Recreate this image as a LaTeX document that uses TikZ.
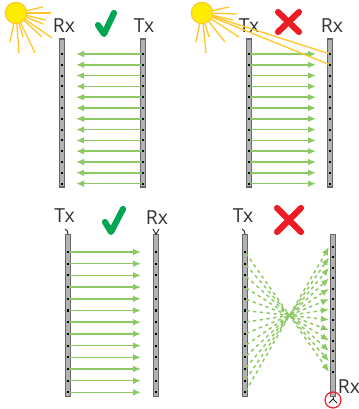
\documentclass[tikz,border=0pt]{standalone}
\usepackage{fontspec}
\setmainfont{Open Sans}
\usetikzlibrary{positioning, calc, arrows.meta}

\definecolor{siggreen}{HTML}{8CC963}
\definecolor{raycol}{HTML}{FFC72C}
\definecolor{goodcol}{HTML}{00A651}
\definecolor{badcol}{HTML}{ED1C24}
\tikzset{
  bar/.style={draw=black!60, fill=black!30, line width=0.8pt, minimum width=3.8pt, inner sep=0pt},
  barmark/.style={fill=black, minimum size=1.6pt, inner sep=0pt},
  sig/.style={draw=siggreen, line width=1.1pt, -{Latex[length=6pt,width=5pt]}},
  sigdash/.style={sig, dashed, dash pattern=on 2.5pt off 2.6pt},
  sun/.style={circle, draw=raycol, line width=0.9pt, fill=yellow!95!orange, minimum size=16pt, inner sep=0pt},
  ray/.style={draw=raycol, line width=1pt},
  lbl/.style={text=black!80, inner sep=0pt, font=\fontsize{14.5}{17}\selectfont},
  verdict/.style={line width=4.6pt, line cap=round, line join=round},
  ant/.style={draw=black!85, line width=0.7pt}
}

\begin{document}
\begin{tikzpicture}[x=0.75pt, y=-0.75pt]
  \useasboundingbox (0,0) rectangle (359,409);

  % top left
  \node[bar, minimum height=111pt] (rxa) at (62,113) {};
  \node[bar, minimum height=111pt] (txa) at (143,113) {};
  \node[lbl] (rxalbl) at (64,26) {Rx};
  \node[lbl] (txalbl) at (144,26) {Tx};
  \foreach \i in {0,...,12} {
    \node[barmark] (rxa\i) at (62,{54+10.8*\i}) {};
    \node[barmark] (txa\i) at (143,{54+10.8*\i}) {};
    \coordinate (enda\i) at (76,{54+10.8*\i});
    \draw[sig] (txa\i) -- (enda\i);
  }
  \draw[verdict, goodcol] (98,25) -- (104,34) -- (114,13);

  % top right
  \node[bar, minimum height=111pt] (txb) at (249,113) {};
  \node[bar, minimum height=111pt] (rxb) at (330,113) {};
  \node[lbl] (txblbl) at (249,26) {Tx};
  \node[lbl] (rxblbl) at (332,26) {Rx};
  \foreach \i in {0,...,12} {
    \node[barmark] (txb\i) at (249,{54+10.8*\i}) {};
    \node[barmark] (rxb\i) at (330,{54+10.8*\i}) {};
    \coordinate (endb\i) at (316,{54+10.8*\i});
    \draw[sig] (txb\i) -- (endb\i);
  }
  \draw[verdict, badcol] (278,12) -- (299,32);
  \draw[verdict, badcol] (299,12) -- (278,32);

  % suns
  \node[sun] (suna) at (16,13) {};
  \foreach \x/\y [count=\n] in {43/7, 51/13, 46/20, 43/24, 52/38, 42/37, 35/53, 23/37, 19/53, 10/42} {
    \coordinate (raya\n) at (\x,\y);
    \draw[ray] (suna) -- (raya\n);
  }
  \node[sun] (sunb) at (202,13) {};
  \foreach \x/\y [count=\n] in {229/7, 237/14, 233/20, 239/37, 225/42, 209/37, 206/53, 196/42} {
    \coordinate (rayb\n) at (\x,\y);
    \draw[ray] (sunb) -- (rayb\n);
  }
  \draw[ray] (sunb) -- (rxb0);
  \draw[ray] (sunb) -- (rxb1);

  % bottom left
  \node[bar, minimum height=121pt] (txc) at (68,315.5) {};
  \node[bar, minimum height=121pt] (rxc) at (156,315.5) {};
  \node[lbl] (txclbl) at (64.5,216) {Tx};
  \node[lbl] (rxclbl) at (157,218) {Rx};
  \foreach \i in {0,...,12} {
    \node[barmark] (txc\i) at (68,{252+11.7*\i}) {};
    \node[barmark] (rxc\i) at (156,{252+11.7*\i}) {};
    \coordinate (endc\i) at (141,{252+11.7*\i});
    \draw[sig] (txc\i) -- (endc\i);
  }
  \coordinate (antc) at (65,229);
  \coordinate (forkcl) at (153,229);
  \coordinate (forkcr) at (159,229);
  \draw[ant] (antc) to[out=-20,in=90] (txc.north);
  \draw[ant] (forkcl) -- (rxc.north) -- (forkcr);
  \draw[verdict, goodcol] (105,222) -- (111,232) -- (123,209);

  % bottom right
  \node[bar, minimum height=121pt] (txd) at (245,315.5) {};
  \node[bar, minimum height=121pt] (rxd) at (333,315.5) {};
  \node[lbl] (txdlbl) at (243,216) {Tx};
  \node[lbl] (rxdlbl) at (349,387) {Rx};
  \foreach \i in {0,...,12} {
    \node[barmark] (txd\i) at (245,{252+11.7*\i}) {};
    \node[barmark] (rxd\i) at (333,{247+10.4*\i}) {};
    \coordinate (endd\i) at (329,{247+10.4*\i});
  }
  \foreach \i [evaluate=\i as \j using int(12-\i)] in {0,...,12} {
    \draw[sigdash] (txd\i) -- (endd\j);
  }
  \coordinate (antd) at (242,229);
  \coordinate (forkd) at (333,399);
  \coordinate (forkdl) at (329,403);
  \coordinate (forkdr) at (337,403);
  \draw[ant] (antd) to[out=-20,in=90] (txd.north);
  \draw[ant] (rxd.south) -- (forkd);
  \draw[ant] (forkdl) -- (forkd) -- (forkdr);
  \node[circle, draw=badcol, line width=0.9pt, minimum size=12pt, inner sep=0pt] (rxdring) at (333,400) {};
  \draw[verdict, badcol] (277,208) -- (301,232);
  \draw[verdict, badcol] (301,208) -- (277,232);
\end{tikzpicture}
\end{document}
